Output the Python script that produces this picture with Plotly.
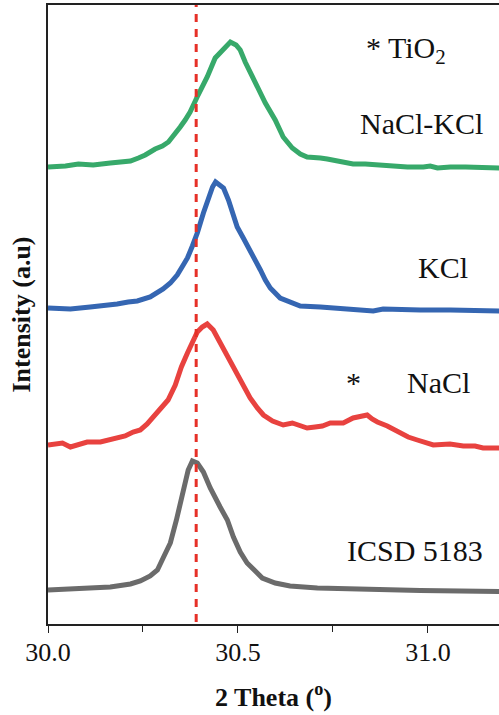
import plotly.graph_objects as go

# ---- data (2theta in degrees, intensity in arbitrary offset units) ----
icsd_x = [30.000, 30.085, 30.164, 30.217, 30.243, 30.269, 30.288, 30.303, 30.322, 30.338,
          30.356, 30.369, 30.380, 30.393, 30.409, 30.427, 30.453, 30.472, 30.488, 30.506,
          30.524, 30.546, 30.564, 30.598, 30.637, 30.709, 30.796, 30.882, 30.980, 31.085, 31.188]
icsd_y = [34, 35, 37, 40, 43, 48, 54, 66, 81, 104,
          131, 154, 163, 161, 152, 136, 117, 104, 87, 72,
          61, 53, 46, 41, 38, 36, 35, 34, 33.5, 33, 32.5]

nacl_x = [30.000, 30.019, 30.038, 30.059, 30.080, 30.103, 30.138, 30.172, 30.203, 30.224,
          30.243, 30.261, 30.277, 30.303, 30.316, 30.335, 30.351, 30.367, 30.380, 30.393,
          30.406, 30.419, 30.435, 30.453, 30.472, 30.488, 30.506, 30.532, 30.551, 30.567,
          30.591, 30.619, 30.643, 30.664, 30.682, 30.703, 30.722, 30.743, 30.777, 30.803,
          30.822, 30.840, 30.853, 30.867, 30.893, 30.914, 30.927, 30.948, 30.972, 31.014,
          31.058, 31.093, 31.124, 31.145, 31.188]
nacl_y = [179, 180, 181, 177, 180, 182, 182, 185, 188, 192,
          194, 200, 207, 217, 224, 239, 257, 271, 282, 292,
          297, 300, 294, 281, 267, 256, 244, 226, 216, 209,
          203, 199, 201, 198, 196, 197, 198, 201, 201, 206,
          207, 209, 205, 202, 198, 194, 191, 187, 184, 179,
          180, 178, 178, 176, 176]

kcl_x = [30.000, 30.059, 30.111, 30.151, 30.182, 30.211, 30.235, 30.269, 30.288, 30.303,
         30.322, 30.340, 30.356, 30.367, 30.380, 30.393, 30.409, 30.422, 30.433, 30.441,
         30.454, 30.462, 30.475, 30.488, 30.498, 30.514, 30.532, 30.546, 30.559, 30.572,
         30.585, 30.611, 30.638, 30.664, 30.717, 30.751, 30.796, 30.856, 30.882, 30.935,
         30.980, 31.059, 31.125, 31.188]
kcl_y = [316, 315, 317, 318, 320, 322, 323, 327, 331, 335,
         341, 349, 359, 366, 378, 391, 411, 426, 437, 442,
         439, 436, 424, 409, 397, 386, 374, 364, 354, 344,
         336, 326, 322, 318, 317, 316, 315, 313, 315, 314,
         314, 314, 313, 313]

mix_x = [30.000, 30.019, 30.046, 30.080, 30.119, 30.164, 30.196, 30.217, 30.238, 30.256,
         30.282, 30.301, 30.317, 30.335, 30.348, 30.361, 30.374, 30.395, 30.419, 30.440,
         30.461, 30.480, 30.495, 30.506, 30.519, 30.532, 30.551, 30.572, 30.598, 30.619,
         30.643, 30.664, 30.682, 30.698, 30.717, 30.735, 30.769, 30.803, 30.835, 30.867,
         30.909, 30.946, 30.988, 31.006, 31.025, 31.046, 31.059, 31.099, 31.146, 31.188]
mix_y = [457, 457, 458, 460, 459, 461, 462, 463, 466, 469,
         475, 478, 482, 490, 497, 504, 512, 529, 547, 566,
         574, 582, 579, 574, 562, 552, 539, 521, 504, 487,
         476, 470, 467, 467, 466, 465, 462, 460, 460, 459,
         457, 457, 457, 458, 456, 457, 457, 457, 456, 456]

ref_line_x = 30.39
x_ticks = [30.0, 30.5, 31.0]
x_tick_text = ["30.0", "30.5", "31.0"]

FONT = "Liberation Serif"

fig = go.Figure()
series = [
    (icsd_x, icsd_y, "#6b6b6b", "ICSD 5183"),
    (nacl_x, nacl_y, "#e8423f", "NaCl"),
    (kcl_x, kcl_y, "#3566b2", "KCl"),
    (mix_x, mix_y, "#37a96a", "NaCl-KCl"),
]
for xs, ys, col, name in series:
    fig.add_trace(go.Scatter(x=xs, y=ys, mode="lines", name=name,
                             line=dict(color=col, width=5), showlegend=False))

fig.add_shape(type="line", xref="x", yref="y", x0=ref_line_x, x1=ref_line_x,
              y0=2, y1=619, line=dict(color="#e63027", width=3, dash="8px,7px"))

ann = [
    ("* TiO<sub>2</sub>", 30.943, 574),
    ("NaCl-KCl", 30.984, 501),
    ("KCl", 31.040, 357),
    ("NaCl", 31.028, 242),
    ("*", 30.803, 242),
    ("ICSD 5183", 30.967, 74),
]
for t, x, y in ann:
    fig.add_annotation(text=t, x=x, y=y, xref="x", yref="y", showarrow=False,
                       xanchor="center", yanchor="middle",
                       font=dict(family=FONT, size=30, color="#111111"))

fig.update_layout(
    width=499, height=715,
    margin=dict(l=48, r=0, t=5, b=91),
    plot_bgcolor="white", paper_bgcolor="white",
    font=dict(family=FONT, color="#111111"),
)
fig.update_xaxes(
    range=[30.0, 31.187], showgrid=False, zeroline=False,
    showline=True, linecolor="#222222", linewidth=1.5, mirror=True,
    tickmode="array", tickvals=x_ticks, ticktext=x_tick_text,
    ticks="outside", ticklen=7, tickcolor="#222222", tickwidth=1,
    ticklabelstandoff=-3,
    minor=dict(dtick=0.25, tick0=30.0, ticks="outside", ticklen=6, tickcolor="#222222", showgrid=False),
    tickfont=dict(family=FONT, size=26, color="#111111"),
    title=dict(text="<b>2 Theta (<sup>o</sup>)</b>", font=dict(family=FONT, size=26, color="#111111"), standoff=22),
)
fig.update_yaxes(
    range=[0, 619], showgrid=False, zeroline=False,
    showline=True, linecolor="#222222", linewidth=1.5, mirror=False,
    showticklabels=False, ticks="",
    title=dict(text="<b>Intensity (a.u)</b>", font=dict(family=FONT, size=26, color="#111111"), standoff=8),
)

fig.write_html("out.html")
